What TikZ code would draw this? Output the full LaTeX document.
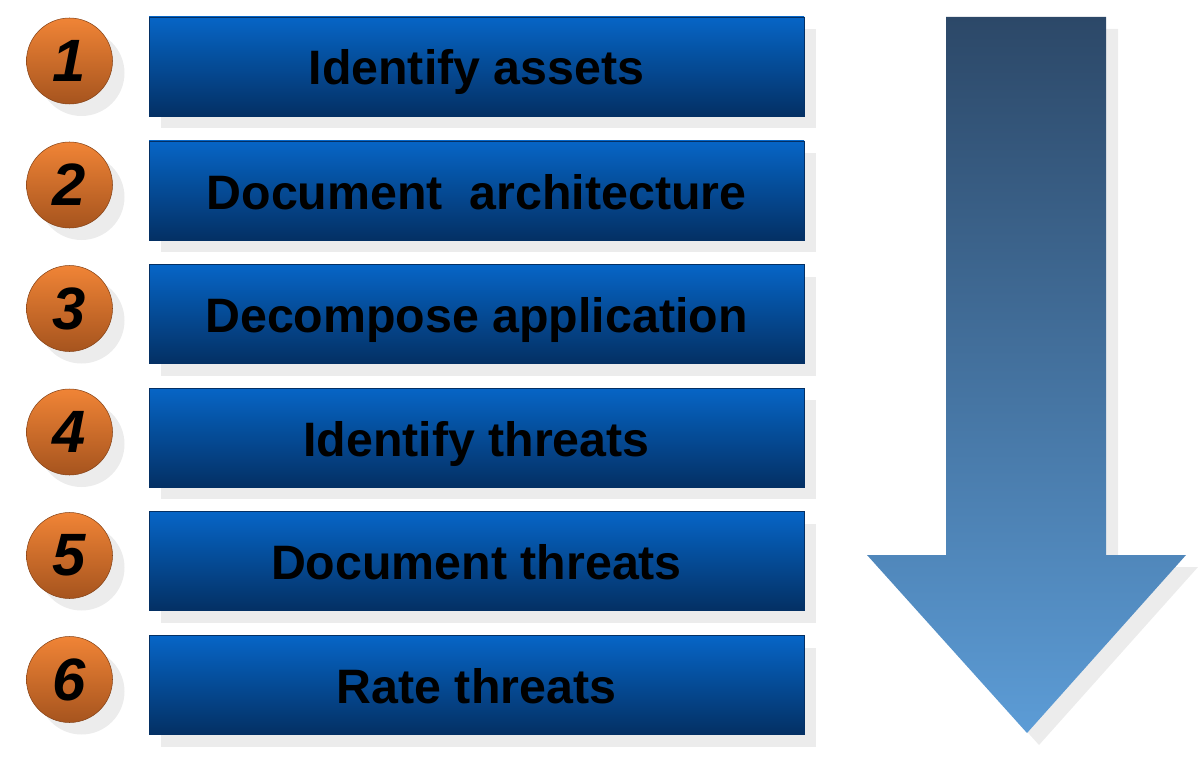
\documentclass[tikz,border=0pt]{standalone}
\usepackage{fontspec}
\setmainfont{Liberation Sans}
\usetikzlibrary{shadows}

\definecolor{barTop}{RGB}{6,101,198}
\definecolor{barMid}{RGB}{5,88,176}
\definecolor{barBot}{RGB}{4,48,100}
\definecolor{ballTop}{RGB}{240,132,54}
\definecolor{ballBot}{RGB}{166,84,30}
\definecolor{arrTop}{RGB}{44,72,104}
\definecolor{arrBot}{RGB}{92,156,214}
\definecolor{shadowgray}{RGB}{236,236,236}

\begin{document}
\begin{tikzpicture}[
  stepbar/.style={draw=barBot,line width=0.4pt,top color=barTop,middle color=barMid,bottom color=barBot,
    minimum width=13.1cm,minimum height=1.98cm,inner sep=0pt,align=center,
    text height=0.74cm,text depth=0cm,
    font=\bfseries\fontsize{27.5}{30}\selectfont,text=black,
    drop shadow={shadow xshift=0.24cm,shadow yshift=-0.24cm,fill=shadowgray,opacity=1}},
  stepnum/.style={circle,draw=ballBot!80!black,line width=0.3pt,top color=ballTop,bottom color=ballBot,
    minimum size=1.72cm,inner sep=0pt,font=\bfseries\itshape\fontsize{34}{36}\selectfont,text=black,
    drop shadow={shadow xshift=0.24cm,shadow yshift=-0.24cm,fill=shadowgray,opacity=1}}]
\useasboundingbox (0,0) rectangle (24,-15.42);
\node[stepbar] (step1) at (9.53,-1.33) {Identify assets};
\node[stepbar] (step2) at (9.53,-3.81) {Document\ \ architecture};
\node[stepbar] (step3) at (9.53,-6.28) {Decompose application};
\node[stepbar] (step4) at (9.53,-8.75) {Identify threats};
\node[stepbar] (step5) at (9.53,-11.22) {Document threats};
\node[stepbar] (step6) at (9.53,-13.70) {Rate threats};
\node[stepnum] (num1) at (1.39,-1.22) {1};
\node[stepnum] (num2) at (1.39,-3.70) {2};
\node[stepnum] (num3) at (1.39,-6.17) {3};
\node[stepnum] (num4) at (1.39,-8.64) {4};
\node[stepnum] (num5) at (1.39,-11.11) {5};
\node[stepnum] (num6) at (1.39,-13.59) {6};
% big downward arrow
\fill[shadowgray] (19.16,-0.58) -- (22.36,-0.58) -- (22.36,-11.34) -- (23.96,-11.34) -- (20.78,-14.90) -- (17.58,-11.34) -- (19.16,-11.34) -- cycle;
\shade[top color=arrTop,bottom color=arrBot] (18.92,-0.34) -- (22.12,-0.34) -- (22.12,-11.10) -- (23.72,-11.10) -- (20.54,-14.66) -- (17.34,-11.10) -- (18.92,-11.10) -- cycle;
\end{tikzpicture}
\end{document}
